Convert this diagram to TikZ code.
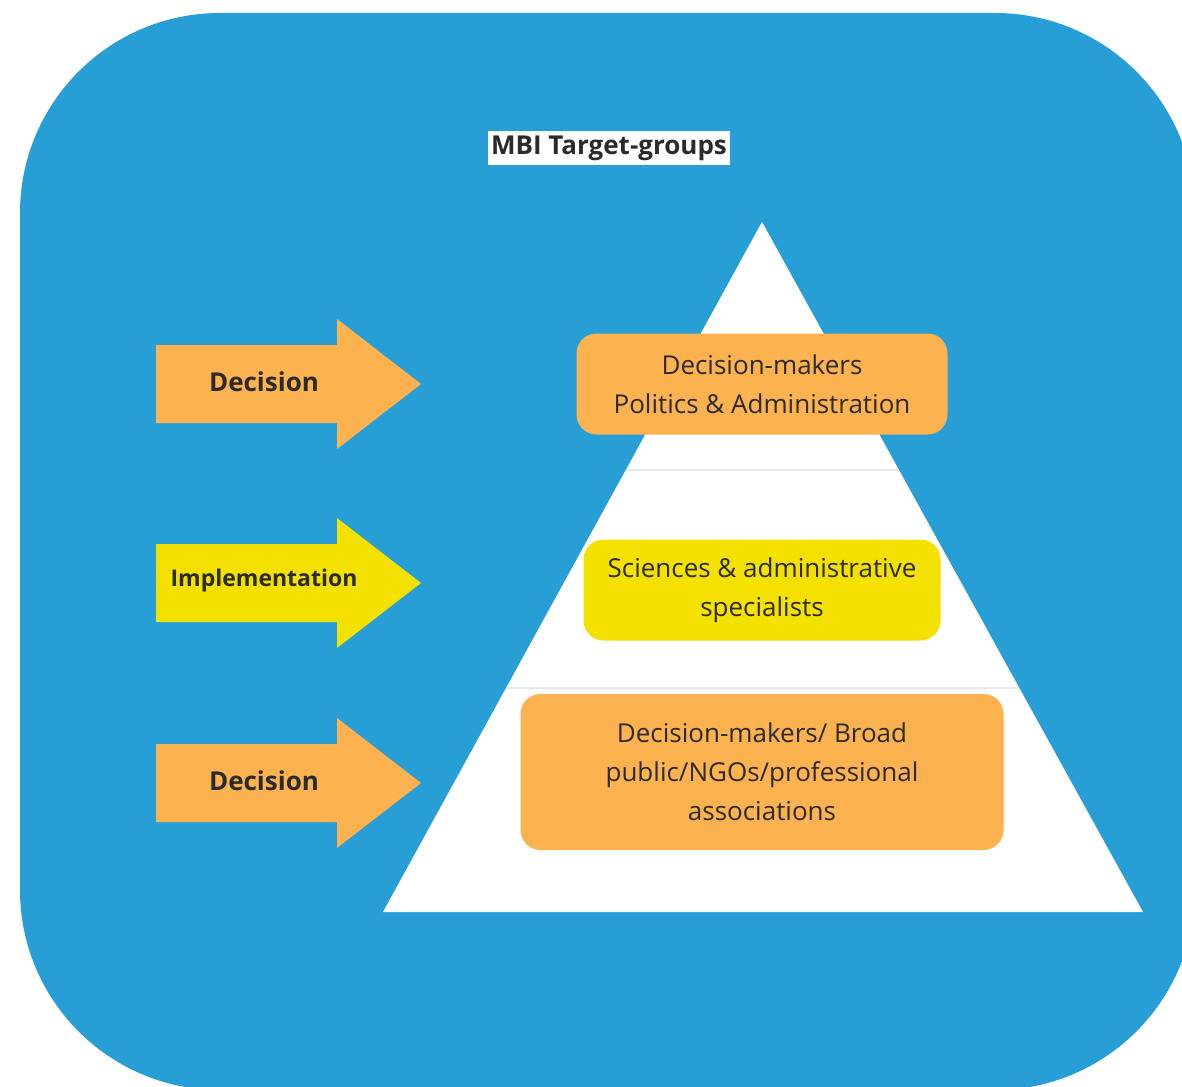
\documentclass[tikz,border=0pt]{standalone}
\usepackage{fontspec}
\setmainfont{Open Sans}
\definecolor{mbiblue}{HTML}{279FD6}
\definecolor{mbiorange}{HTML}{FDB250}
\definecolor{mbiyellow}{HTML}{F4E100}
\definecolor{mbitext}{HTML}{2B2B2B}
\definecolor{mbiline}{HTML}{E3E8EC}
\tikzset{
  groupbox/.style={rounded corners=20pt, inner sep=0pt, align=center, text=mbitext,
    font=\fontsize{26}{39}\selectfont},
  arrowlabel/.style={inner sep=0pt, text=mbitext, font=\bfseries\fontsize{26}{30}\selectfont}
}
\begin{document}
\begin{tikzpicture}[x=1pt, y=-1pt]
    \useasboundingbox[fill=white] (0,0) rectangle (1182,1086);

    % Hintergrund
    \begin{scope}
        \clip (0,0) rectangle (1182,1086);
        \fill[mbiblue, rounded corners=200pt] (20,13) rectangle (1195,1090);
    \end{scope}

    % Titel
    \node[fill=white, inner xsep=3pt, inner ysep=5pt, text=mbitext, font=\bfseries\fontsize{26}{30}\selectfont] (titel) at (609,148) {MBI Target-groups};

    % Pyramide
    \fill[white] (762,222) -- (1143,912) -- (383,912) -- cycle;
    \draw[mbiline, line width=1.5pt] (626,470) -- (899,470);
    \draw[mbiline, line width=1.5pt] (506,688) -- (1019,688);

    % Zielgruppen
    \node[groupbox, fill=mbiorange, minimum width=371pt, minimum height=101pt] (politik) at (762,384) {Decision-makers\\Politics \& Administration};
    \node[groupbox, fill=mbiyellow, minimum width=357pt, minimum height=101pt] (wissen) at (762,590) {Sciences \& administrative\\specialists};
    \node[groupbox, fill=mbiorange, minimum width=483pt, minimum height=156pt] (public) at (762,772) {Decision-makers/ Broad\\public/NGOs/professional\\associations};

    % Pfeile
    \foreach \y/\col/\txt/\fs/\name in {384/mbiorange/Decision/26/pfeilA, 583/mbiyellow/Implementation/23/pfeilB, 783/mbiorange/Decision/26/pfeilC} {
        \fill[\col] (156,\y-39) -- (337,\y-39) -- (337,\y-65) -- (421,\y) -- (337,\y+65) -- (337,\y+39) -- (156,\y+39) -- cycle;
        \node[arrowlabel, font=\bfseries\fontsize{\fs}{30}\selectfont] (\name) at (264,\y-2) {\txt};
    }
\end{tikzpicture}
\end{document}
